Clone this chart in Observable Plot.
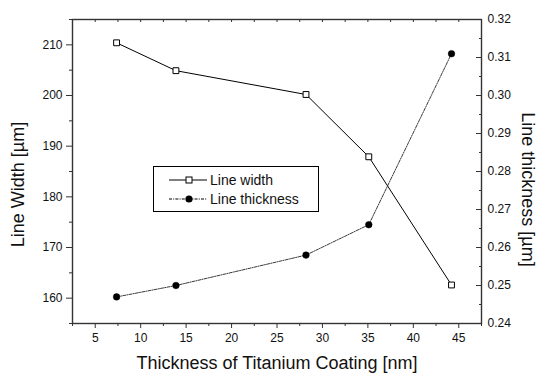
<!DOCTYPE html>
<html><head><meta charset="utf-8">
<script src="https://cdn.jsdelivr.net/npm/d3@7"></script>
<script src="https://cdn.jsdelivr.net/npm/@observablehq/plot@0.6"></script>
<style>
body{margin:0;background:#fff;font-family:"Liberation Sans",Arial,sans-serif;}
#wrap{position:relative;width:537px;height:374px;}
#legend{position:absolute;left:153px;top:166px;}
</style></head><body><div id="wrap"><div id="legend"></div></div>
<script>
// Data
const coating = [7.35, 13.88, 28.19, 35.1, 44.2];              // nm
const lineWidth = [210.4, 204.9, 200.2, 187.9, 162.6];         // µm (left axis)
const lineThickness = [0.247, 0.250, 0.258, 0.266, 0.311];     // µm (right axis)

const xTicks = [5, 10, 15, 20, 25, 30, 35, 40, 45];
const xMinor = [2.5, 7.5, 12.5, 17.5, 22.5, 27.5, 32.5, 37.5, 42.5, 47.5];
const yTicks = [160, 170, 180, 190, 200, 210];
const yMinor = [155, 165, 175, 185, 195, 205, 215];
const rTicks = [0.24, 0.25, 0.26, 0.27, 0.28, 0.29, 0.30, 0.31, 0.32];
const rMinor = [0.245, 0.255, 0.265, 0.275, 0.285, 0.295, 0.305, 0.315];

const seriesNames = ["Line width", "Line thickness"];
const xTitle = "Thickness of Titanium Coating [nm]";
const yTitle = "Line Width [µm]";
const rTitle = "Line thickness [µm]";

// map right-axis values onto the left y domain
const T = d3.scaleLinear().domain([0.24, 0.32]).range([155, 215]);

const widthData = coating.map((x, i) => ({x, y: lineWidth[i]}));
const thickData = coating.map((x, i) => ({x, y: T(lineThickness[i])}));

const font = "Liberation Sans, Arial, sans-serif";
const axisCol = "#333";

const plot = Plot.plot({
  width: 537,
  height: 374,
  marginLeft: 72,
  marginRight: 56,
  marginTop: 19,
  marginBottom: 51,
  style: {fontFamily: font, fontSize: "12px", color: "#111", background: "#fff"},
  x: {domain: [2.5, 47.5]},
  y: {domain: [155, 215]},
  marks: [
    // bottom axis
    Plot.axisX({ticks: xTicks, tickSize: 5, tickPadding: 5, tickFormat: d => d, label: null, stroke: axisCol, fontSize: 12}),
    Plot.axisX({ticks: xMinor, tickSize: 3, text: null, label: null, stroke: axisCol}),
    // top mirror ticks (inward, tiny)
    Plot.axisX({anchor: "top", ticks: xTicks.concat(xMinor), tickSize: -2, text: null, label: null, stroke: axisCol}),
    // left axis
    Plot.axisY({ticks: yTicks, tickSize: 6, tickPadding: 4, tickFormat: d => d, label: null, stroke: axisCol, fontSize: 12}),
    Plot.axisY({ticks: yMinor, tickSize: 3, text: null, label: null, stroke: axisCol}),
    // right axis (inward ticks)
    Plot.axisY({anchor: "right", ticks: rTicks.map(T), tickSize: -6, text: null, label: null, stroke: axisCol}),
    Plot.axisY({anchor: "right", ticks: rMinor.map(T), tickSize: -3, text: null, label: null, stroke: axisCol}),
    Plot.axisY({anchor: "right", ticks: rTicks.map(T), tickSize: 0, tickPadding: 6,
      tickFormat: d => d3.format(".2f")(T.invert(d)), label: null, fontSize: 12}),
    Plot.frame({stroke: axisCol, strokeWidth: 1.4}),
    // series
    Plot.line(widthData, {x: "x", y: "y", stroke: "#000", strokeWidth: 1}),
    Plot.line(thickData, {x: "x", y: "y", stroke: "#222", strokeWidth: 0.9, strokeDasharray: "3,1.2,1,1.2"}),
    Plot.dot(widthData, {x: "x", y: "y", symbol: "square", r: 3.3, stroke: "#000", fill: "#fff", strokeWidth: 1}),
    Plot.dot(thickData, {x: "x", y: "y", symbol: "circle", r: 3.3, fill: "#000", stroke: "#000", strokeWidth: 0.5}),
    // axis titles
    Plot.text([xTitle], {frameAnchor: "bottom", dy: 40, fontSize: 18, fill: "#111", lineAnchor: "middle", textAnchor: "middle"}),
    Plot.text([yTitle], {frameAnchor: "left", dx: -54, dy: 13, rotate: -90, fontSize: 18, fill: "#111", lineAnchor: "middle", textAnchor: "middle"}),
    Plot.text([rTitle], {frameAnchor: "right", dx: 46, dy: 18, rotate: 90, fontSize: 18, fill: "#111", lineAnchor: "middle", textAnchor: "middle"})
  ]
});
document.getElementById("wrap").prepend(plot);
plot.style.position = "absolute";
plot.style.left = "0px";
plot.style.top = "0px";

// legend (overlay)
const lg = d3.select("#legend").append("svg")
  .attr("width", 166).attr("height", 47)
  .style("font-family", font).style("display", "block");
lg.append("rect").attr("x", 0.5).attr("y", 0.5).attr("width", 165).attr("height", 45)
  .attr("fill", "#fff").attr("stroke", "#000").attr("stroke-width", 1);
const rows = [
  {name: seriesNames[0], y: 14, dash: null, sym: "square"},
  {name: seriesNames[1], y: 33, dash: "3,1.2,1,1.2", sym: "circle"}
];
rows.forEach(r => {
  lg.append("line").attr("x1", 16).attr("x2", 54).attr("y1", r.y).attr("y2", r.y)
    .attr("stroke", "#000").attr("stroke-width", 1).attr("stroke-dasharray", r.dash);
  if (r.sym === "square") {
    lg.append("rect").attr("x", 33).attr("y", r.y - 3).attr("width", 6).attr("height", 6)
      .attr("fill", "#fff").attr("stroke", "#000");
  } else {
    lg.append("circle").attr("cx", 36).attr("cy", r.y).attr("r", 3.6).attr("fill", "#000");
  }
  lg.append("text").attr("x", 57).attr("y", r.y).attr("dy", "0.35em")
    .attr("font-size", 14).attr("fill", "#111").text(r.name);
});
</script>
</body></html>
